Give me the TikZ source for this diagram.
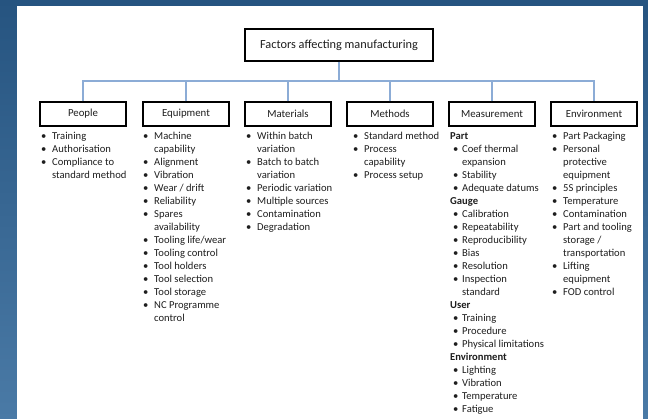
\documentclass[tikz,border=0pt]{standalone}
\usepackage{fontspec}
\setmainfont{Carlito}
\definecolor{bgtop}{RGB}{38,84,128}
\definecolor{bgbot}{RGB}{74,122,166}
\definecolor{conn}{RGB}{140,172,214}
\definecolor{txt}{RGB}{30,30,30}
\newcommand\bl{\makebox[11pt][l]{\textbullet}}
\newcommand\cn{\hspace*{11pt}}
\newcommand\mbl{\hspace*{3pt}\makebox[9pt][l]{\textbullet}}
\newcommand\mcn{\hspace*{12pt}}
\begin{document}
\begin{tikzpicture}[x=1pt,y=-1pt,
  catbox/.style={draw=black,line width=1.3pt,minimum width=86pt,minimum height=24pt,inner sep=0pt,font=\fontsize{10.8}{12}\selectfont,text=txt},
  titlebox/.style={draw=black,line width=1.3pt,minimum width=188pt,minimum height=32pt,inner sep=0pt,font=\fontsize{12.3}{14}\selectfont,text=txt},
  items/.style={anchor=north west,inner sep=0pt,align=left,text=txt,font=\fontsize{10.6}{13}\selectfont},
  connline/.style={draw=conn,line width=1.2pt}]
\shade[top color=bgtop,bottom color=bgbot] (0,0) rectangle (648,419);
\fill[white] (17,6) rectangle (643,419);
\useasboundingbox (0,0) rectangle (648,419);

\node[titlebox] (title) at (339,45) {Factors affecting manufacturing};
\node[catbox] (people) at (83,114) {People};
\node[catbox] (equip) at (186,114) {Equipment};
\node[catbox] (mat) at (288,114) {Materials};
\node[catbox] (meth) at (390,114) {Methods};
\node[catbox] (meas) at (492,114) {Measurement};
\node[catbox] (env) at (594,114) {Environment};
\coordinate (bus) at (339,81);

\draw[connline] (title.south) -- (bus);
\draw[connline] (people.north) -- (people.north |- bus) -- (env.north |- bus) -- (env.north);
\draw[connline] (equip.north) -- (equip.north |- bus);
\draw[connline] (mat.north) -- (mat.north |- bus);
\draw[connline] (meth.north) -- (meth.north |- bus);
\draw[connline] (meas.north) -- (meas.north |- bus);

\node[items] (peoplelist) at (41,130.5) {\begin{tabular}{@{}l@{}}
\bl Training\\
\bl Authorisation\\
\bl Compliance to\\
\cn standard method
\end{tabular}};

\node[items] (equiplist) at (143,130.5) {\begin{tabular}{@{}l@{}}
\bl Machine\\
\cn capability\\
\bl Alignment\\
\bl Vibration\\
\bl Wear / drift\\
\bl Reliability\\
\bl Spares\\
\cn availability\\
\bl Tooling life/wear\\
\bl Tooling control\\
\bl Tool holders\\
\bl Tool selection\\
\bl Tool storage\\
\bl NC Programme\\
\cn control
\end{tabular}};

\node[items] (matlist) at (246,130.5) {\begin{tabular}{@{}l@{}}
\bl Within batch\\
\cn variation\\
\bl Batch to batch\\
\cn variation\\
\bl Periodic variation\\
\bl Multiple sources\\
\bl Contamination\\
\bl Degradation
\end{tabular}};

\node[items] (methlist) at (353,130.5) {\begin{tabular}{@{}l@{}}
\bl Standard method\\
\bl Process\\
\cn capability\\
\bl Process setup
\end{tabular}};

\node[items] (measlist) at (450,130.5) {\begin{tabular}{@{}l@{}}
\textbf{Part}\\
\mbl Coef thermal\\
\mcn expansion\\
\mbl Stability\\
\mbl Adequate datums\\
\textbf{Gauge}\\
\mbl Calibration\\
\mbl Repeatability\\
\mbl Reproducibility\\
\mbl Bias\\
\mbl Resolution\\
\mbl Inspection\\
\mcn standard\\
\textbf{User}\\
\mbl Training\\
\mbl Procedure\\
\mbl Physical limitations\\
\textbf{Environment}\\
\mbl Lighting\\
\mbl Vibration\\
\mbl Temperature\\
\mbl Fatigue
\end{tabular}};

\node[items] (envlist) at (552,130.5) {\begin{tabular}{@{}l@{}}
\bl Part Packaging\\
\bl Personal\\
\cn protective\\
\cn equipment\\
\bl 5S principles\\
\bl Temperature\\
\bl Contamination\\
\bl Part and tooling\\
\cn storage /\\
\cn transportation\\
\bl Lifting\\
\cn equipment\\
\bl FOD control
\end{tabular}};
\end{tikzpicture}
\end{document}
